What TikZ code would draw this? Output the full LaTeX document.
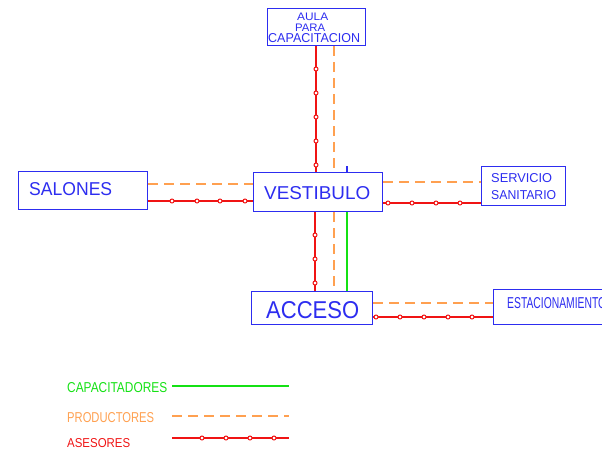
\documentclass[tikz,border=0pt]{standalone}
\usepackage{fontspec}
\setmainfont{Liberation Sans}
\usepackage{graphicx}
\definecolor{cadblue}{RGB}{45,45,240}
\definecolor{cadred}{RGB}{240,20,20}
\definecolor{cadorange}{RGB}{255,160,80}
\definecolor{cadgreen}{RGB}{20,225,20}
\newcommand{\fitw}[3]{\resizebox{#1pt}{#2pt}{#3}}
\tikzset{
  box/.style={draw=cadblue, line width=1.4pt, fill=white, inner sep=0pt, anchor=north west},
  lbl/.style={inner sep=0pt, anchor=west, text=cadblue},
  aseline/.style={draw=cadred, line width=1.5pt},
  proline/.style={draw=cadorange, line width=1.6pt, dash pattern=on 10pt off 6pt},
  capline/.style={draw=cadgreen, line width=1.4pt},
  asedot/.style={draw=cadred, line width=1pt, fill=white},
}
\begin{document}
\begin{tikzpicture}[x=1pt,y=-1pt]
\useasboundingbox (0,0) rectangle (602,452);
\clip (0,0) rectangle (602,452);
% boxes
\node[box, minimum width=98pt, minimum height=37pt] (aula) at (267,8) {};
\node[box, minimum width=129pt, minimum height=38pt] (sal) at (18,171) {};
\node[box, minimum width=129pt, minimum height=39pt] (vest) at (253,172) {};
\node[box, minimum width=84pt, minimum height=39pt] (serv) at (481,166) {};
\node[box, minimum width=121pt, minimum height=33pt] (acc) at (251,291) {};
\node[box, minimum width=130pt, minimum height=35pt] (est) at (493,289) {};
% texts
\node[lbl] (t1) at (297,16.5) {\fitw{31}{7.5}{AULA}};
\node[lbl] (t2) at (295,27.5) {\fitw{30}{7.5}{PARA}};
\node[lbl] (t3) at (268,38.5) {\fitw{92}{9}{CAPACITACION}};
\node[lbl] (t4) at (29,189.5) {\fitw{83}{13}{SALONES}};
\node[lbl] (t5) at (264,193) {\fitw{106}{13}{VESTIBULO}};
\node[lbl] (t6) at (491,178.5) {\fitw{61}{9}{SERVICIO}};
\node[lbl] (t7) at (491,195) {\fitw{65}{9}{SANITARIO}};
\node[lbl] (t8) at (266,310.5) {\fitw{93}{17}{ACCESO}};
\node[lbl] (t9) at (507,303.5) {\fitw{99}{11}{ESTACIONAMIENTO}};
% ASESORES (red with circles)
\draw[aseline] (aula.south -| 316,0) -- (vest.north -| 316,0);
\foreach \y in {69,93,117,141,165} \draw[asedot] (316,\y) circle (2pt);
\draw[aseline] (vest.south -| 315,0) -- (acc.north -| 315,0);
\foreach \y in {235,259,283} \draw[asedot] (315,\y) circle (2pt);
\draw[aseline] (sal.east |- 0,201) -- (vest.west |- 0,201);
\foreach \x in {172,197,220,245} \draw[asedot] (\x,201) circle (2pt);
\draw[aseline] (vest.east |- 0,203) -- (serv.west |- 0,203);
\foreach \x in {388,412,436,460} \draw[asedot] (\x,203) circle (2pt);
\draw[aseline] (acc.east |- 0,317) -- (est.west |- 0,317);
\foreach \x in {376,400,424,448,472} \draw[asedot] (\x,317) circle (2pt);
% PRODUCTORES (orange dashed)
\draw[proline] (aula.south -| 334,0) -- (vest.north -| 334,0);
\draw[proline] (vest.south -| 334,0) -- (acc.north -| 334,0);
\draw[proline] (sal.east |- 0,184) -- (vest.west |- 0,184);
\draw[proline] (vest.east |- 0,182) -- (serv.west |- 0,182);
\draw[proline] (acc.east |- 0,303) -- (est.west |- 0,303);
% CAPACITADORES (green)
\draw[capline] (vest.south -| 347,0) -- (acc.north -| 347,0);
\draw[draw=cadblue, line width=1.4pt] (347,166) -- (vest.north -| 347,0);
% legend
\node[lbl, text=cadgreen] (lg1) at (67,388) {\fitw{100}{10}{CAPACITADORES}};
\node[lbl, text=cadorange] (lg2) at (67,418) {\fitw{87}{10}{PRODUCTORES}};
\node[lbl, text=cadred] (lg3) at (67,443.5) {\fitw{63}{9}{ASESORES}};
\coordinate (g1) at (172,386); \coordinate (g2) at (289,386);
\coordinate (o1) at (172,416); \coordinate (o2) at (289,416);
\coordinate (r1) at (172,438); \coordinate (r2) at (289,438);
\draw[capline] (g1) -- (g2);
\draw[proline] (o1) -- (o2);
\draw[aseline] (r1) -- (r2);
\foreach \x in {202,226,250,274} \draw[asedot] (\x,438) circle (2pt);
\end{tikzpicture}
\end{document}
